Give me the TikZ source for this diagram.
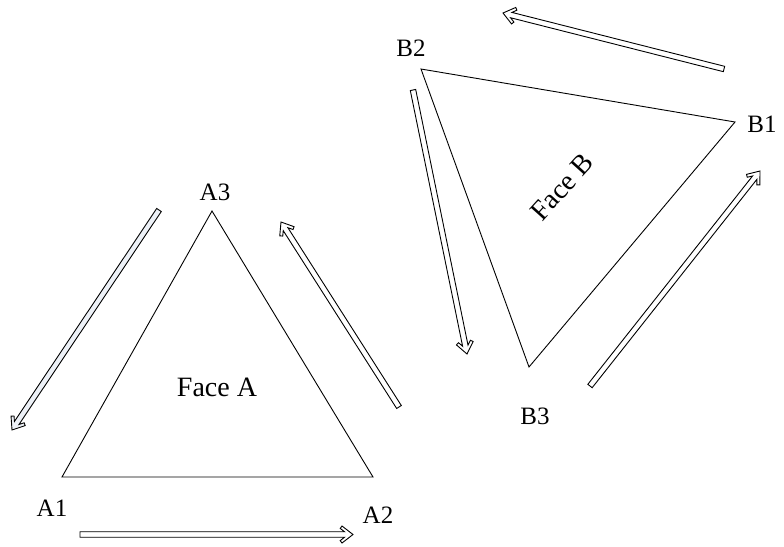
\documentclass[tikz,border=0pt]{standalone}
\usepackage{fontspec}
\setmainfont{Liberation Serif}
\usetikzlibrary{calc}
\definecolor{arrowtint}{HTML}{EDF1F7}
\tikzset{
  face/.style={draw=black, line width=0.9pt, line join=miter},
  vlabel/.style={font=\rmfamily\fontsize{25}{25}\selectfont, inner sep=0pt},
  facelabel/.style={font=\rmfamily\fontsize{28}{28}\selectfont, inner sep=0pt},
  blockarrow/.style={draw=black, line width=0.9pt, fill=white, line join=miter},
}
% Hollow block arrow from tail #2 to tip #3 (shaft 5.5pt wide, chevron head)
\newcommand\hollowarrow[3][]{%
  \filldraw[blockarrow,#1] (#3)
    -- ($ ($(#3)!11pt!(#2)$)!8.5pt!90:(#3) $)
    -- ($ ($(#3)!12.8pt!(#2)$)!6.1pt!90:(#3) $)
    -- ($ ($(#3)!8.5pt!(#2)$)!2.75pt!90:(#3) $)
    -- ($ (#2)!2.75pt!90:(#3) $)
    -- ($ (#2)!2.75pt!270:(#3) $)
    -- ($ ($(#3)!8.5pt!(#2)$)!2.75pt!270:(#3) $)
    -- ($ ($(#3)!12.8pt!(#2)$)!6.1pt!270:(#3) $)
    -- ($ ($(#3)!11pt!(#2)$)!8.5pt!270:(#3) $)
    -- cycle;}
\begin{document}
\begin{tikzpicture}[x=1pt, y=-1pt]
  \useasboundingbox (0,0) rectangle (784,546);

  % Face A
  \coordinate (A1) at (62,477);
  \coordinate (A2) at (373,477);
  \coordinate (A3) at (212,211);
  \draw[face] (A1) -- (A2) -- (A3) -- cycle;
  \node[vlabel] (lA1) at (52,508) {A1};
  \node[vlabel] (lA2) at (378,515) {A2};
  \node[vlabel] (lA3) at (215,192) {A3};
  \node[facelabel] (fA) at (217,387) {Face A};

  % Face B
  \coordinate (B1) at (735,122);
  \coordinate (B2) at (421,69);
  \coordinate (B3) at (529,367);
  \draw[face] (B1) -- (B2) -- (B3) -- cycle;
  \node[vlabel] (lB1) at (762,124) {B1};
  \node[vlabel] (lB2) at (411,48) {B2};
  \node[vlabel] (lB3) at (535,416) {B3};
  \node[facelabel, rotate=48] (fB) at (562,187) {Face B};

  % Orientation arrows around face A
  \coordinate (a1s) at (80,534.5);  \coordinate (a1e) at (353,534.5);
  \coordinate (a2s) at (399,407);   \coordinate (a2e) at (281,222);
  \coordinate (a3s) at (159,210);   \coordinate (a3e) at (12,430);
  \hollowarrow{a1s}{a1e}
  \hollowarrow{a2s}{a2e}
  \hollowarrow[fill=arrowtint]{a3s}{a3e}

  % Orientation arrows around face B
  \coordinate (b1s) at (590,386);   \coordinate (b1e) at (760,171);
  \coordinate (b2s) at (724,69);    \coordinate (b2e) at (503,13);
  \coordinate (b3s) at (413,90);    \coordinate (b3e) at (467,354);
  \hollowarrow{b1s}{b1e}
  \hollowarrow{b2s}{b2e}
  \hollowarrow{b3s}{b3e}
\end{tikzpicture}
\end{document}
